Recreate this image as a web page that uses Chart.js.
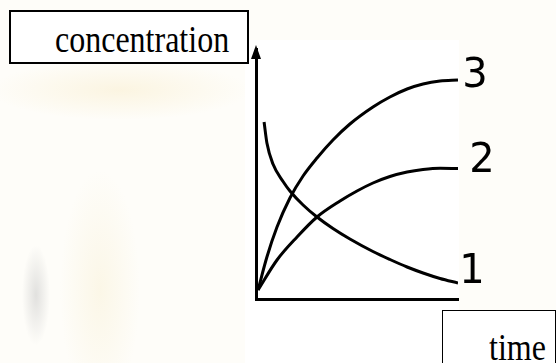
<!DOCTYPE html>
<html>
<head>
<meta charset="utf-8">
<script src="https://cdn.jsdelivr.net/npm/chart.js@4"></script>
<style>
  html, body { margin: 0; padding: 0; }
  body {
    width: 556px; height: 363px; overflow: hidden;
    background:
      radial-gradient(ellipse 130px 30px at 120px 90px, rgba(245, 225, 170, 0.3), rgba(255,255,255,0) 100%),
      radial-gradient(ellipse 14px 50px at 36px 295px, rgba(190, 190, 190, 0.45), rgba(255,255,255,0) 100%),
      radial-gradient(ellipse 40px 120px at 100px 290px, rgba(245, 232, 190, 0.3), rgba(255,255,255,0) 100%),
      #fefdf9;
  }
  #wrap { position: relative; width: 556px; height: 363px; }
  #paper { position: absolute; left: 245px; top: 40px; width: 214px; height: 323px; background: #fff; }
  canvas { position: absolute; left: 0; top: 0; }
  .box { position: absolute; background: #fff; border: 1px solid #000; box-sizing: border-box; }
  .lbl {
    position: absolute; font-family: "Liberation Serif", "Times New Roman", serif;
    font-size: 32px; line-height: 32px; color: #000; white-space: nowrap;
    transform: scaleY(1.2); transform-origin: 0 27px;
  }
</style>
</head>
<body>
<div id="wrap">
  <div id="paper"></div>
  <canvas id="chart" width="556" height="363"></canvas>
  <div class="box" style="left:9px; top:10px; width:240px; height:54px; border-width:2px;"></div>
  <span class="lbl" style="left:55px; top:25px;">concentration</span>
  <div class="box" style="left:442px; top:310px; width:114px; height:60px;"></div>
  <span class="lbl" style="left:489px; top:333px;">time</span>
</div>
<script>
// values, axes run 0..100 in both directions
const curve1X = [4, 5.4, 8.4, 13.4, 16.8, 23.3, 30.2, 38.1, 46.5, 57.9, 66.3, 74.8, 82.7, 91.1, 100];
const curve1Y = [70.8, 62.4, 54, 47, 43.2, 37.6, 32.8, 28.2, 24, 19, 15.8, 12.8, 10.4, 8.2, 6.4];
const curve2X = [1, 10.4, 20.3, 30.2, 41.6, 50, 57.9, 66.3, 74.8, 82.7, 91.1, 100];
const curve2Y = [3.6, 15.6, 24.8, 32.8, 39.2, 43.2, 46.4, 49, 50.8, 51.8, 52.3, 52.2];
const curve3X = [1, 5.4, 10.4, 16.8, 23.3, 30.2, 38.1, 46.5, 57.9, 66.3, 74.8, 82.7, 91.1, 100];
const curve3Y = [3.6, 16.8, 28.8, 40.4, 49.2, 56.4, 63.6, 70, 76.8, 80.8, 84, 86, 87.2, 87.6];
const curveLabels = ['1', '2', '3'];

const toPoints = (xs, ys) => xs.map((x, i) => ({ x: x, y: ys[i] }));

const series = [toPoints(curve1X, curve1Y), toPoints(curve2X, curve2Y), toPoints(curve3X, curve3Y)];

// where each hand written number sits next to the end of its curve
const labelOffsets = [[14, -10], [24, -7], [17, -3]];

const endLabels = {
    id: 'endLabels',
    afterDatasetsDraw(chart) {
        const ctx = chart.ctx;
        const xs = chart.scales.x;
        const ys = chart.scales.y;
        ctx.save();
        ctx.fillStyle = '#000';
        ctx.font = '40px "DejaVu Sans"';
        ctx.textAlign = 'center';
        ctx.textBaseline = 'middle';
        series.forEach((pts, i) => {
            const last = pts[pts.length - 1];
            ctx.fillText(curveLabels[i], xs.getPixelForValue(last.x) + labelOffsets[i][0],
                ys.getPixelForValue(last.y) + labelOffsets[i][1]);
        });
        // arrow head on the concentration axis
        const ax = xs.left;
        const top = chart.chartArea.top;
        ctx.beginPath();
        ctx.moveTo(ax, top - 4);
        ctx.lineTo(ax - 5, top + 10);
        ctx.lineTo(ax + 5, top + 10);
        ctx.closePath();
        ctx.fill();
        ctx.restore();
    }
};

const axisStyle = {
    type: 'linear',
    min: 0,
    max: 100,
    grid: { display: false, drawTicks: false },
    ticks: { display: false },
    border: { display: true, color: '#000', width: 3 },
    afterFit(scale) {
        if (scale.isHorizontal()) scale.height = 0; else scale.width = 0;
    }
};

new Chart(document.getElementById('chart').getContext('2d'), {
    type: 'scatter',
    data: {
        datasets: series.map((pts, i) => ({
            label: curveLabels[i],
            data: pts,
            showLine: true,
            borderColor: '#000',
            borderWidth: 3,
            pointRadius: 0,
            cubicInterpolationMode: 'monotone',
            fill: false
        }))
    },
    options: {
        responsive: false,
        animation: false,
        layout: { padding: { left: 256, right: 98, top: 49, bottom: 64 } },
        plugins: { legend: { display: false }, tooltip: { enabled: false }, title: { display: false } },
        scales: { x: axisStyle, y: axisStyle }
    },
    plugins: [endLabels]
});
</script>
</body>
</html>
